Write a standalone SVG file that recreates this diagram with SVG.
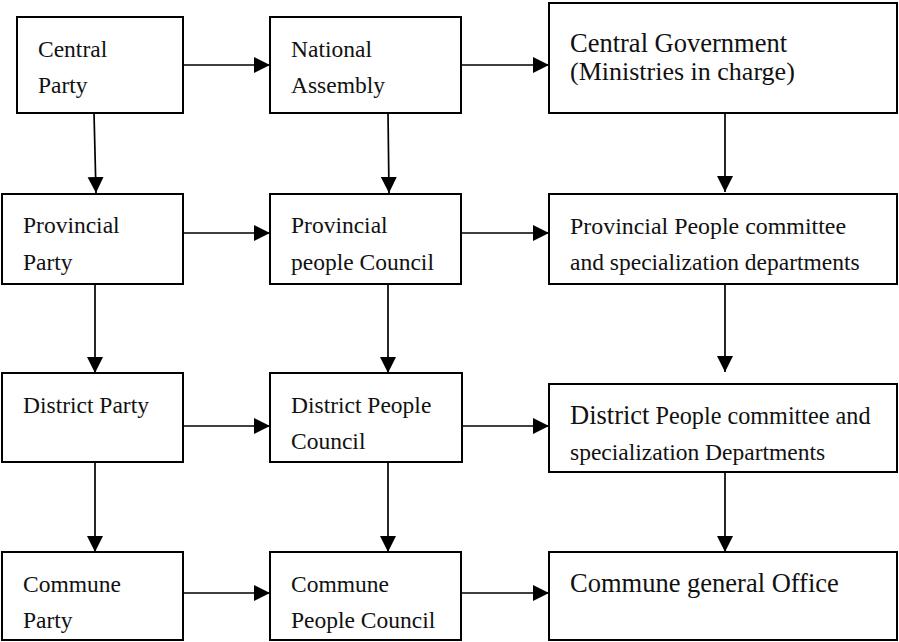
<svg xmlns="http://www.w3.org/2000/svg" width="899" height="642" viewBox="0 0 899 642">
<defs>
<style>
.box{fill:#fff;stroke:#000;stroke-width:2}
.t{font-family:'Liberation Serif','DejaVu Serif',serif;font-size:23.5px;fill:#111}
.tl{font-family:'Liberation Serif','DejaVu Serif',serif;font-size:26.5px;fill:#111}
.c{stroke:#000;stroke-width:1.7;fill:none;marker-end:url(#ah)}
</style>
<marker id="ah" markerUnits="userSpaceOnUse" markerWidth="17" markerHeight="17" refX="16" refY="8" orient="auto">
<path d="M0,0 L16,8 L0,16 Z" fill="#000"/>
</marker>
</defs>
<rect width="899" height="642" fill="#fff"/>
<g id="connectors">
<line class="c" x1="183" y1="65" x2="270" y2="65"/>
<line class="c" x1="461" y1="65" x2="549" y2="65"/>
<line class="c" x1="183" y1="233" x2="270" y2="233"/>
<line class="c" x1="461" y1="233" x2="549" y2="233"/>
<line class="c" x1="183" y1="426" x2="270" y2="426"/>
<line class="c" x1="462" y1="426" x2="549" y2="426"/>
<line class="c" x1="183" y1="593" x2="270" y2="593"/>
<line class="c" x1="461" y1="593" x2="549" y2="593"/>
<line class="c" x1="94" y1="113" x2="96" y2="193"/>
<line class="c" x1="388" y1="113" x2="389" y2="193"/>
<line class="c" x1="725" y1="113" x2="725" y2="192"/>
<line class="c" x1="95" y1="284" x2="95" y2="373"/>
<line class="c" x1="388" y1="284" x2="388" y2="373"/>
<line class="c" x1="725" y1="284" x2="725" y2="372"/>
<line class="c" x1="95" y1="462" x2="95" y2="552"/>
<line class="c" x1="388" y1="462" x2="388" y2="552"/>
<line class="c" x1="725" y1="472" x2="725" y2="552"/>
</g>
<g id="central-party">
<rect class="box" x="17" y="17" width="166" height="96"/>
<text class="t" x="38" y="57">Central</text>
<text class="t" x="38" y="93">Party</text>
</g>
<g id="national-assembly">
<rect class="box" x="270" y="17" width="191" height="96"/>
<text class="t" x="291" y="57">National</text>
<text class="t" x="291" y="93">Assembly</text>
</g>
<g id="central-government">
<rect class="box" x="549" y="3" width="348" height="110"/>
<text class="tl" x="570" y="52">Central Government</text>
<text class="tl" x="570" y="80" style="font-size:26px">(Ministries in charge)</text>
</g>
<g id="provincial-party">
<rect class="box" x="2" y="194" width="181" height="90"/>
<text class="t" x="23" y="233">Provincial</text>
<text class="t" x="23" y="270">Party</text>
</g>
<g id="provincial-people-council">
<rect class="box" x="270" y="194" width="191" height="90"/>
<text class="t" x="291" y="233">Provincial</text>
<text class="t" x="291" y="270">people Council</text>
</g>
<g id="provincial-people-committee">
<rect class="box" x="549" y="194" width="348" height="90"/>
<text class="t" x="570" y="234" style="font-size:23.9px">Provincial People committee</text>
<text class="t" x="570" y="270">and specialization departments</text>
</g>
<g id="district-party">
<rect class="box" x="2" y="373" width="181" height="89"/>
<text class="t" x="23" y="413">District Party</text>
</g>
<g id="district-people-council">
<rect class="box" x="270" y="373" width="192" height="89"/>
<text class="t" x="291" y="413">District People</text>
<text class="t" x="291" y="449">Council</text>
</g>
<g id="district-people-committee">
<rect class="box" x="549" y="384" width="348" height="88"/>
<text class="t" x="570" y="424" style="font-size:24.2px"><tspan style="font-size:26.5px">District</tspan> People committee and</text>
<text class="t" x="570" y="460">specialization Departments</text>
</g>
<g id="commune-party">
<rect class="box" x="2" y="552" width="181" height="88"/>
<text class="t" x="23" y="592">Commune</text>
<text class="t" x="23" y="628">Party</text>
</g>
<g id="commune-people-council">
<rect class="box" x="270" y="552" width="191" height="88"/>
<text class="t" x="291" y="592">Commune</text>
<text class="t" x="291" y="628">People Council</text>
</g>
<g id="commune-general-office">
<rect class="box" x="549" y="552" width="348" height="88"/>
<text class="tl" x="570" y="592">Commune general Office</text>
</g>
</svg>
